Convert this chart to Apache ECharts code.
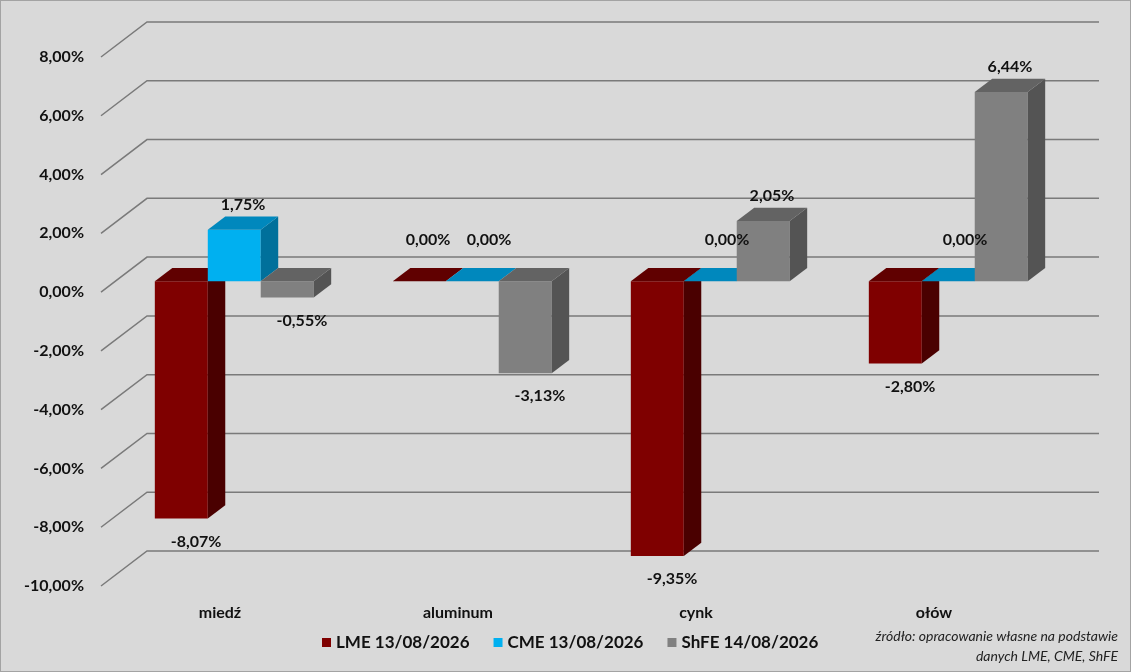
<!DOCTYPE html>
<html>
<head>
<meta charset="utf-8">
<script src="https://cdn.jsdelivr.net/npm/echarts@6/dist/echarts.min.js"></script>
<style>
  html, body { margin: 0; padding: 0; background: #d9d9d9; }
  #chart { width: 1131px; height: 672px; box-sizing: border-box; border: 1px solid #a3a3a3; }
</style>
</head>
<body>
<div id="chart"></div>
<script>
// data
const categories = ['miedź', 'aluminum', 'cynk', 'ołów'];
const lme = [-8.07, 0, -9.35, -2.80];
const cme = [1.75, 0, 0, 0];
const shfe = [-0.55, -3.13, 2.05, 6.44];
const yTicks = [-10, -8, -6, -4, -2, 0, 2, 4, 6, 8];

const seriesNames = ['LME 13/08/2026', 'CME 13/08/2026', 'ShFE 14/08/2026'];
// front, top, side
const faces = [
    ['#7f0000', '#600000', '#4a0000'],
    ['#00b0f0', '#0088bd', '#00709b'],
    ['#808080', '#636363', '#545454']
];

const FONT = 'Lato, "Open Sans", sans-serif';
const DEPTH = [46, -35];     // full depth of the "room"
const F0 = 0.31, F1 = 0.69;  // bars sit in the middle of it

const fmt = v => v.toFixed(2).replace('.', ',') + '%';

const chart = echarts.init(document.getElementById('chart'), null, { renderer: 'canvas' });

// projected box of one bar
const barBox = (api, idx) => {
    const ci = api.value(0), v = api.value(1);
    const base = api.coord([ci, 0]);
    const top = api.coord([ci, v]);
    const band = api.size([1, 0])[0];
    const w = band * 0.2225;
    const x0 = base[0] - 1.5 * w + idx * w + F0 * DEPTH[0];
    const ya = base[1] + F0 * DEPTH[1], yb = top[1] + F0 * DEPTH[1];
    return {
        v, w, x0,
        dx: (F1 - F0) * DEPTH[0], dy: (F1 - F0) * DEPTH[1],
        yt: Math.min(ya, yb), ybot: Math.max(ya, yb)
    };
};

const wallSeries = {
    type: 'custom',
    silent: true,
    z: 1,
    data: yTicks.map(v => [0, v]),
    renderItem: (params, api) => {
        const cs = params.coordSys;
        const y = api.coord([0, api.value(1)])[1];
        const x = cs.x;
        return {
            type: 'polyline',
            shape: { points: [[x, y], [x + DEPTH[0], y + DEPTH[1]], [x + cs.width + DEPTH[0], y + DEPTH[1]]] },
            style: { stroke: '#7a7a7a', lineWidth: 1.5, fill: null }
        };
    }
};

const barSeries = (name, values, idx) => ({
    type: 'custom',
    name: name,
    z: 2 + idx,
    itemStyle: { color: faces[idx][0] },
    data: values.map((v, i) => [i, v]),
    renderItem: (params, api) => {
        const b = barBox(api, idx);
        const { w, x0, dx, dy, yt, ybot } = b;
        const c = faces[idx];
        const kids = [];
        if (ybot - yt > 0.5) {
            kids.push({ type: 'rect', shape: { x: x0, y: yt, width: w, height: ybot - yt }, style: { fill: c[0] } });
            kids.push({ type: 'polygon', shape: { points: [[x0 + w, yt], [x0 + w, ybot], [x0 + w + dx, ybot + dy], [x0 + w + dx, yt + dy]] }, style: { fill: c[2] } });
        }
        kids.push({ type: 'polygon', shape: { points: [[x0, yt], [x0 + w, yt], [x0 + w + dx, yt + dy], [x0 + dx, yt + dy]] }, style: { fill: c[1] } });
        return { type: 'group', children: kids };
    }
});

const labelSeries = (values, idx) => ({
    type: 'custom',
    silent: true,
    z: 10,
    data: values.map((v, i) => [i, v]),
    renderItem: (params, api) => {
        const b = barBox(api, idx);
        let lx = b.x0 + b.w / 2 + b.dx / 2, ly;
        if (b.v > 0) ly = b.yt + b.dy - 12;
        else if (b.v === 0) { ly = b.yt + b.dy - 28; lx += idx * 8; }
        else { ly = b.ybot + 23; lx += 6; }
        return {
            type: 'text',
            style: {
                x: lx, y: ly, text: fmt(b.v),
                align: 'center', verticalAlign: 'middle',
                font: 'bold 16px ' + FONT, fill: '#111'
            }
        };
    }
});

const dataSets = [lme, cme, shfe];

chart.setOption({
    backgroundColor: '#d9d9d9',
    animation: false,
    grid: { left: 100, right: 77, top: 56, bottom: 85 },
    xAxis: {
        type: 'category',
        data: categories,
        axisLine: { show: false },
        axisTick: { show: false },
        axisLabel: { margin: 19, fontFamily: FONT, fontWeight: 'bold', fontSize: 16, color: '#111' }
    },
    yAxis: {
        type: 'value',
        min: -10, max: 8, interval: 2,
        axisLine: { show: false },
        axisTick: { show: false },
        splitLine: { show: false },
        axisLabel: { margin: 17, formatter: fmt, fontFamily: FONT, fontWeight: 'bold', fontSize: 16, color: '#111' }
    },
    legend: {
        data: seriesNames,
        bottom: 15,
        left: 316,
        icon: 'rect',
        itemWidth: 9,
        itemHeight: 9,
        itemGap: 24,
        textStyle: { fontFamily: FONT, fontWeight: 'bold', fontSize: 17, color: '#111' }
    },
    graphic: [{
        type: 'text',
        right: 12,
        top: 628,
        style: { text: 'źródło: opracowanie własne na podstawie', font: 'italic 14px ' + FONT, fill: '#222' }
    }, {
        type: 'text',
        right: 12,
        top: 648,
        style: { text: 'danych LME, CME, ShFE', font: 'italic 14px ' + FONT, fill: '#222' }
    }],
    series: [wallSeries]
        .concat(dataSets.map((vals, i) => barSeries(seriesNames[i], vals, i)))
        .concat(dataSets.map((vals, i) => labelSeries(vals, i)))
});
</script>
</body>
</html>
